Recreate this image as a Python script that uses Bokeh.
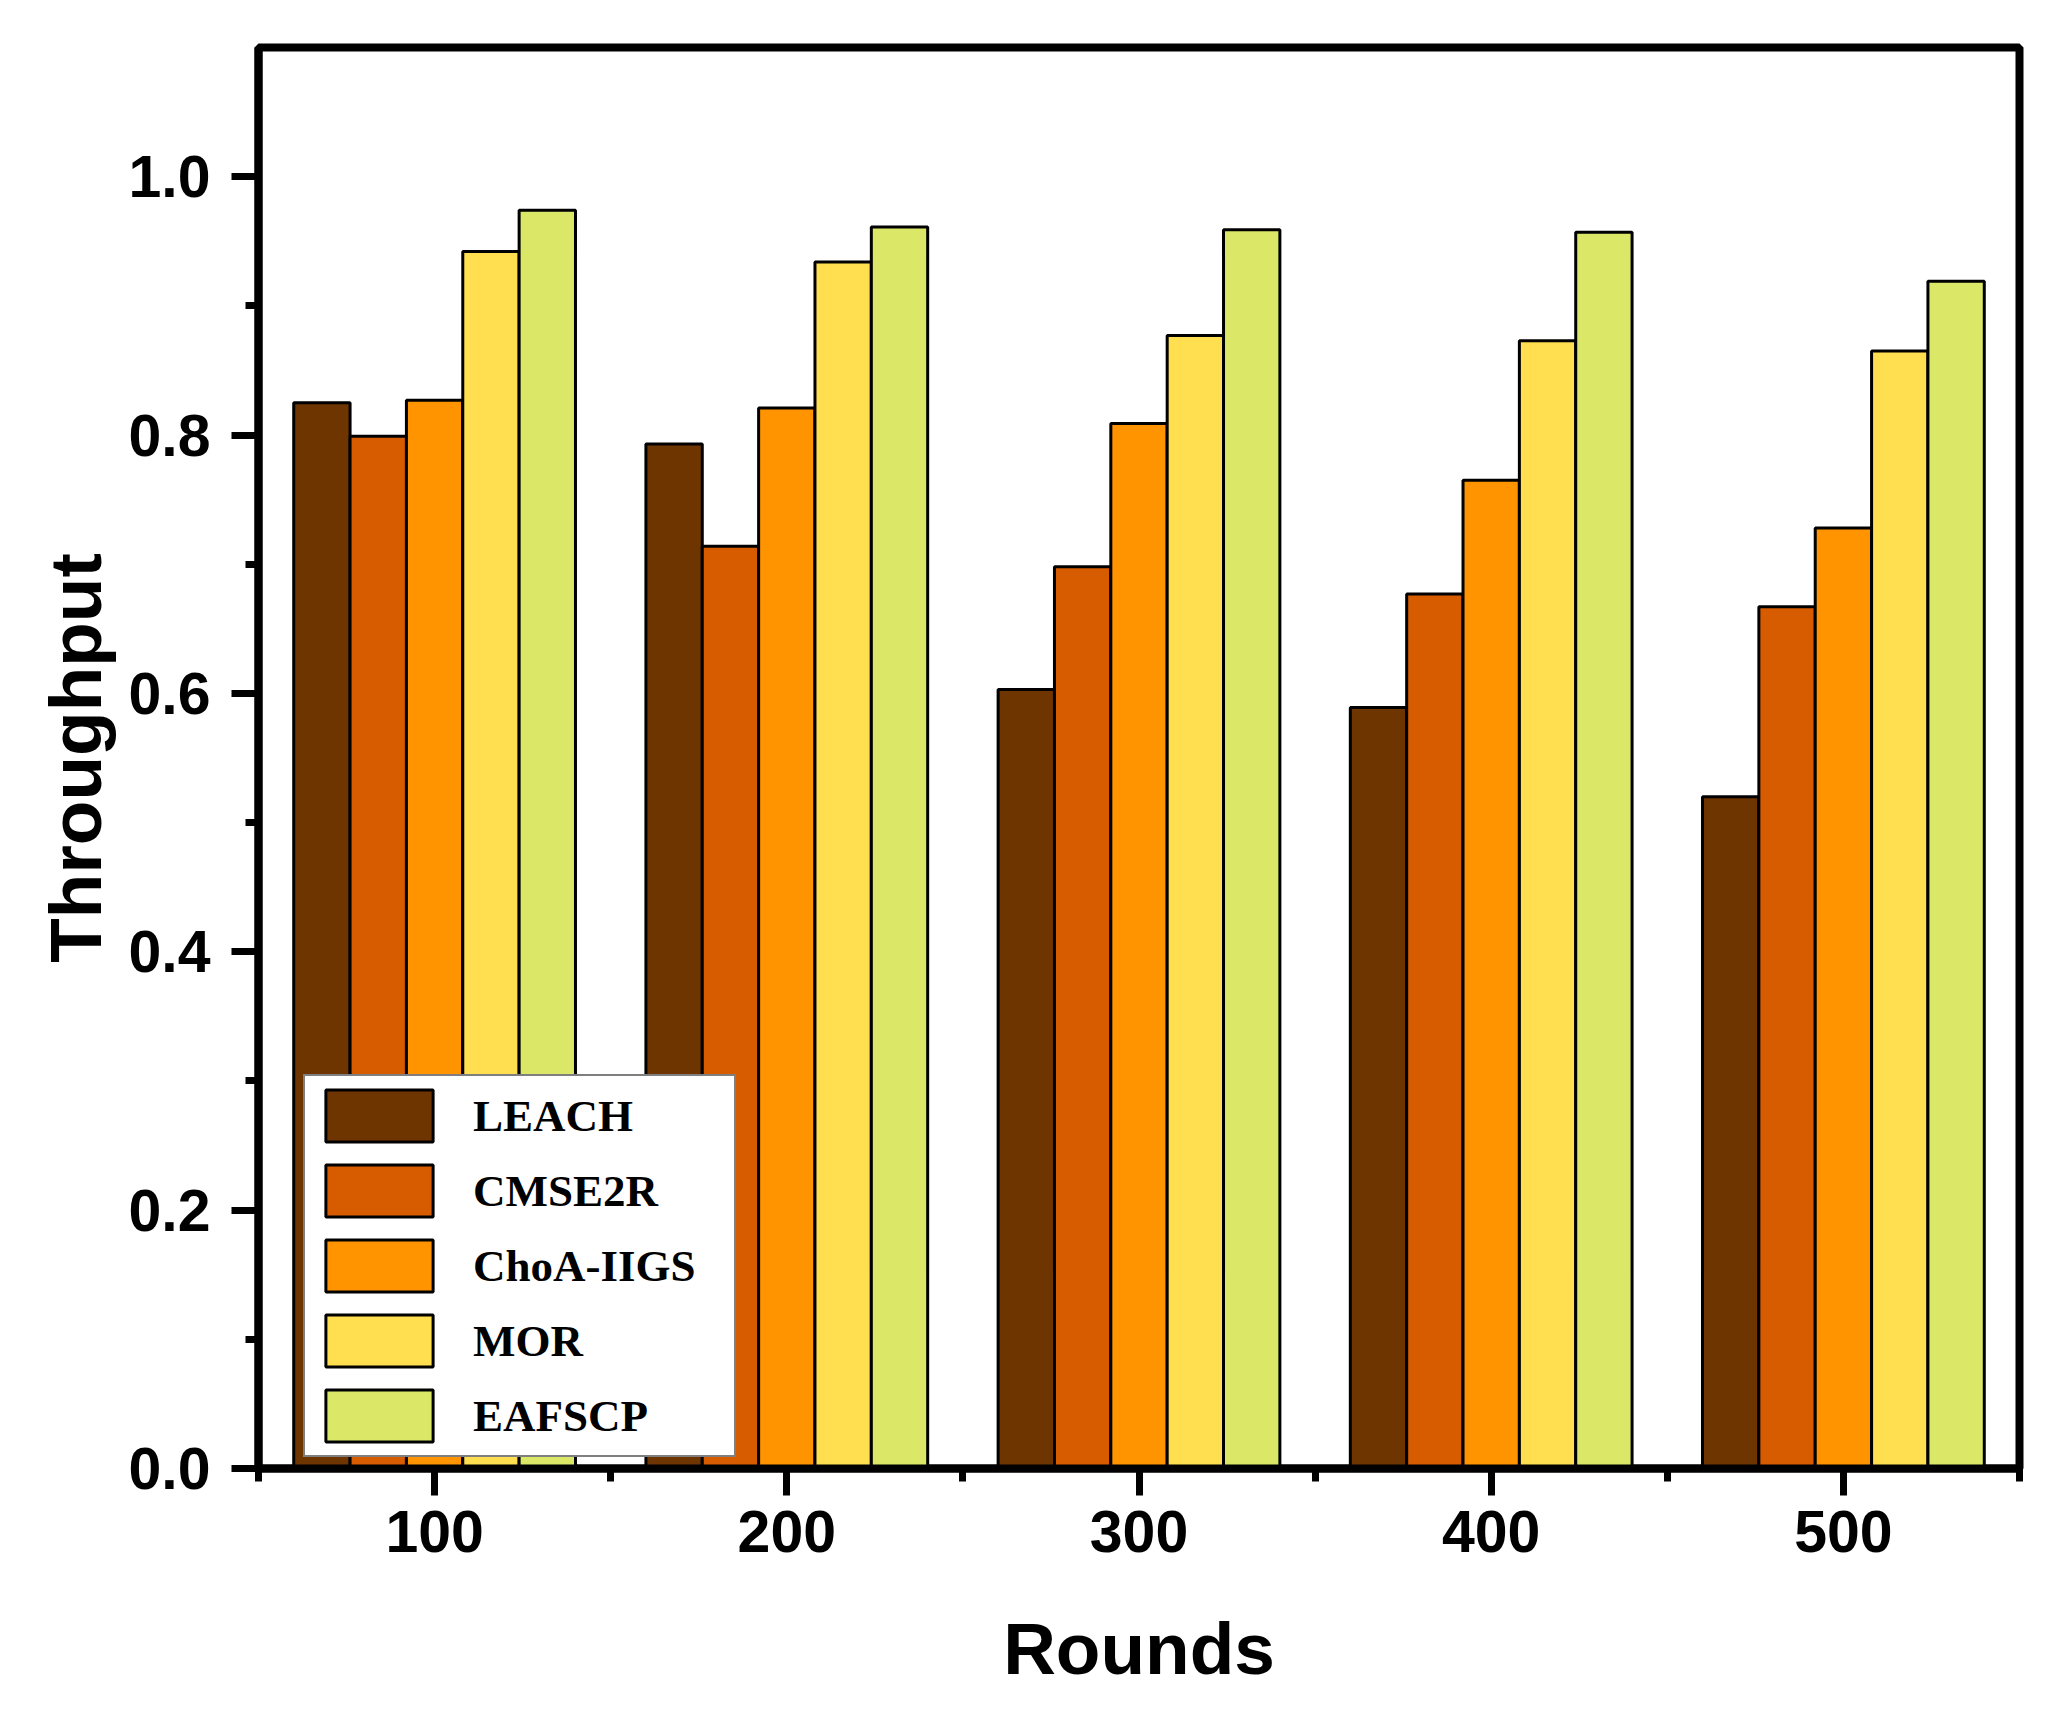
from bokeh.plotting import figure
from bokeh.models import ColumnDataSource, Range1d, FixedTicker, NumeralTickFormatter
from bokeh.transform import dodge
from bokeh.embed import file_html
from bokeh.resources import INLINE

rounds = [100, 200, 300, 400, 500]
leach = [0.825, 0.793, 0.603, 0.589, 0.520]
cmse2r = [0.799, 0.714, 0.698, 0.677, 0.667]
choa_iigs = [0.827, 0.821, 0.809, 0.765, 0.728]
mor = [0.942, 0.934, 0.877, 0.873, 0.865]
eafscp = [0.974, 0.961, 0.959, 0.957, 0.919]

names = ["LEACH", "CMSE2R", "ChoA-IIGS", "MOR", "EAFSCP"]
colors = ["#6E3500", "#D75C00", "#FF9300", "#FFDE50", "#DBE766"]
offsets = [-32, -16, 0, 16, 32]

source = ColumnDataSource(data=dict(rounds=rounds, leach=leach, cmse2r=cmse2r,
                                    choa=choa_iigs, mor=mor, eafscp=eafscp))
cols = ["leach", "cmse2r", "choa", "mor", "eafscp"]

p = figure(width=2060, height=1717, title=None,
           x_range=Range1d(50, 550), y_range=Range1d(0, 1.1),
           x_axis_label="Rounds", y_axis_label="Throughput",
           output_backend="svg", toolbar_location=None,
           min_border_left=258, min_border_right=41,
           min_border_top=47, min_border_bottom=249)

for col, name, color, off in zip(cols, names, colors, offsets):
    p.vbar(x=dodge("rounds", off, range=p.x_range), top=col, width=16, bottom=0,
           source=source, fill_color=color, line_color="black", line_width=3,
           legend_label=name)

p.xgrid.visible = False
p.ygrid.visible = False
p.outline_line_color = "black"
p.outline_line_width = 8

p.xaxis.ticker = FixedTicker(ticks=rounds, minor_ticks=[50, 150, 250, 350, 450, 550])
p.yaxis.ticker = FixedTicker(ticks=[0, 0.2, 0.4, 0.6, 0.8, 1.0],
                             minor_ticks=[0.1, 0.3, 0.5, 0.7, 0.9])
p.yaxis.formatter = NumeralTickFormatter(format="0.0")

for ax in (p.xaxis[0], p.yaxis[0]):
    ax.axis_line_width = 8
    ax.axis_line_color = "black"
    ax.major_tick_line_width = 7
    ax.minor_tick_line_width = 7
    ax.major_tick_out = 27
    ax.major_tick_in = 0
    ax.minor_tick_out = 13
    ax.minor_tick_in = 0
    ax.major_label_text_font = "Liberation Sans"
    ax.major_label_text_font_style = "bold"
    ax.major_label_text_font_size = "59px"
    ax.major_label_text_color = "black"
    ax.axis_label_text_font = "Liberation Sans"
    ax.axis_label_text_font_style = "bold"
    ax.axis_label_text_font_size = "73px"
    ax.axis_label_text_color = "black"

p.xaxis.major_label_standoff = 15
p.xaxis.axis_label_standoff = 53
p.yaxis.major_label_standoff = 21
p.yaxis.axis_label_standoff = 9

leg = p.legend[0]
leg.location = (45, 11)
leg.margin = 0
leg.padding = 7
leg.spacing = 10
leg.glyph_width = 134
leg.glyph_height = 65
leg.label_standoff = 27
leg.label_width = 254
leg.label_text_font = "Liberation Serif"
leg.label_text_font_style = "bold"
leg.label_text_font_size = "45px"
leg.label_text_color = "black"
leg.border_line_color = "black"
leg.border_line_width = 2
leg.background_fill_color = "white"
leg.background_fill_alpha = 1.0

open("out.html", "w").write(file_html(p, INLINE))
